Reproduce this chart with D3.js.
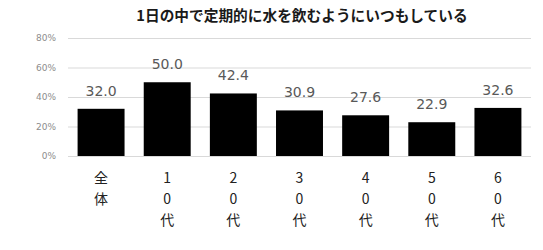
<!DOCTYPE html>
<html>
<head>
<meta charset="utf-8">
<script src="https://cdn.jsdelivr.net/npm/d3@7"></script>
<style>
  body { margin: 0; background: #fff; }
</style>
</head>
<body>
<div id="chart"></div>
<script>
// Données
const categories = ["全体", "10代", "20代", "30代", "40代", "50代", "60代"];
const values = [32.0, 50.0, 42.4, 30.9, 27.6, 22.9, 32.6];
const yTicks = [0, 20, 40, 60, 80];
const title = "1日の中で定期的に水を飲むようにいつもしている";

const W = 543, H = 250;
let margin = { top: 38, right: 12, bottom: 94, left: 68 };
let width = W - margin.left - margin.right,
    height = H - margin.top - margin.bottom;

let svg = d3.select("#chart")
    .append("svg")
    .attr("width", W)
    .attr("height", H)
    .style("font-family", "'DejaVu Sans', 'Noto Sans CJK JP', sans-serif");

let g = svg.append("g")
    .attr("transform", "translate(" + margin.left + "," + margin.top + ")");

// Echelles
let x = d3.scaleBand()
    .domain(categories)
    .range([0, width])
    .paddingInner(0.29)
    .paddingOuter(0.145);

let y = d3.scaleLinear()
    .domain([0, 80])
    .range([height, 0]);

// Grille + axe Y
let yAxis = g.append("g")
    .attr("class", "axisY")
    .call(d3.axisLeft(y).tickValues(yTicks).tickSize(-width).tickFormat(d => d + "%").tickPadding(12));
yAxis.select(".domain").remove();
yAxis.selectAll("line").attr("stroke", "#d9d9d9").attr("stroke-width", 1);
yAxis.selectAll("text")
    .style("font-size", "9px")
    .style("font-family", "'DejaVu Sans', sans-serif")
    .attr("fill", "#8c8c8c");

// Barres
g.selectAll(".bar")
    .data(values)
    .enter()
    .append("rect")
    .attr("class", "bar")
    .attr("x", (d, i) => x(categories[i]))
    .attr("y", d => y(d))
    .attr("width", x.bandwidth())
    .attr("height", d => y(0) - y(d))
    .attr("fill", "#000");

// Valeurs
g.selectAll(".val")
    .data(values)
    .enter()
    .append("text")
    .attr("class", "val")
    .attr("x", (d, i) => x(categories[i]) + x.bandwidth() / 2)
    .attr("y", d => y(d) - 13)
    .attr("text-anchor", "middle")
    .style("font-size", "14px")
    .style("font-family", "'DejaVu Sans', sans-serif")
    .attr("fill", "#595959")
    .text(d => d.toFixed(1));

// Labels X (verticaux)
let xl = g.selectAll(".xlab")
    .data(categories)
    .enter()
    .append("text")
    .attr("class", "xlab")
    .attr("text-anchor", "middle")
    .attr("fill", "#222")
    .style("font-size", "14px")
    .style("font-family", "'Noto Sans CJK JP', sans-serif");

xl.selectAll("tspan")
    .data(d => Array.from(d).map(c => ({ c: c, cat: d })))
    .enter()
    .append("tspan")
    .attr("x", d => x(d.cat) + x.bandwidth() / 2)
    .attr("y", (d, i) => height + 27 + i * 21)
    .text(d => d.c);

// Titre
svg.append("text")
    .attr("x", 302)
    .attr("y", 21)
    .attr("text-anchor", "middle")
    .style("font-size", "14.7px")
    .style("font-weight", "bold")
    .style("font-family", "'Noto Sans CJK JP', sans-serif")
    .attr("fill", "#1a1a1a")
    .text(title);
</script>
</body>
</html>
